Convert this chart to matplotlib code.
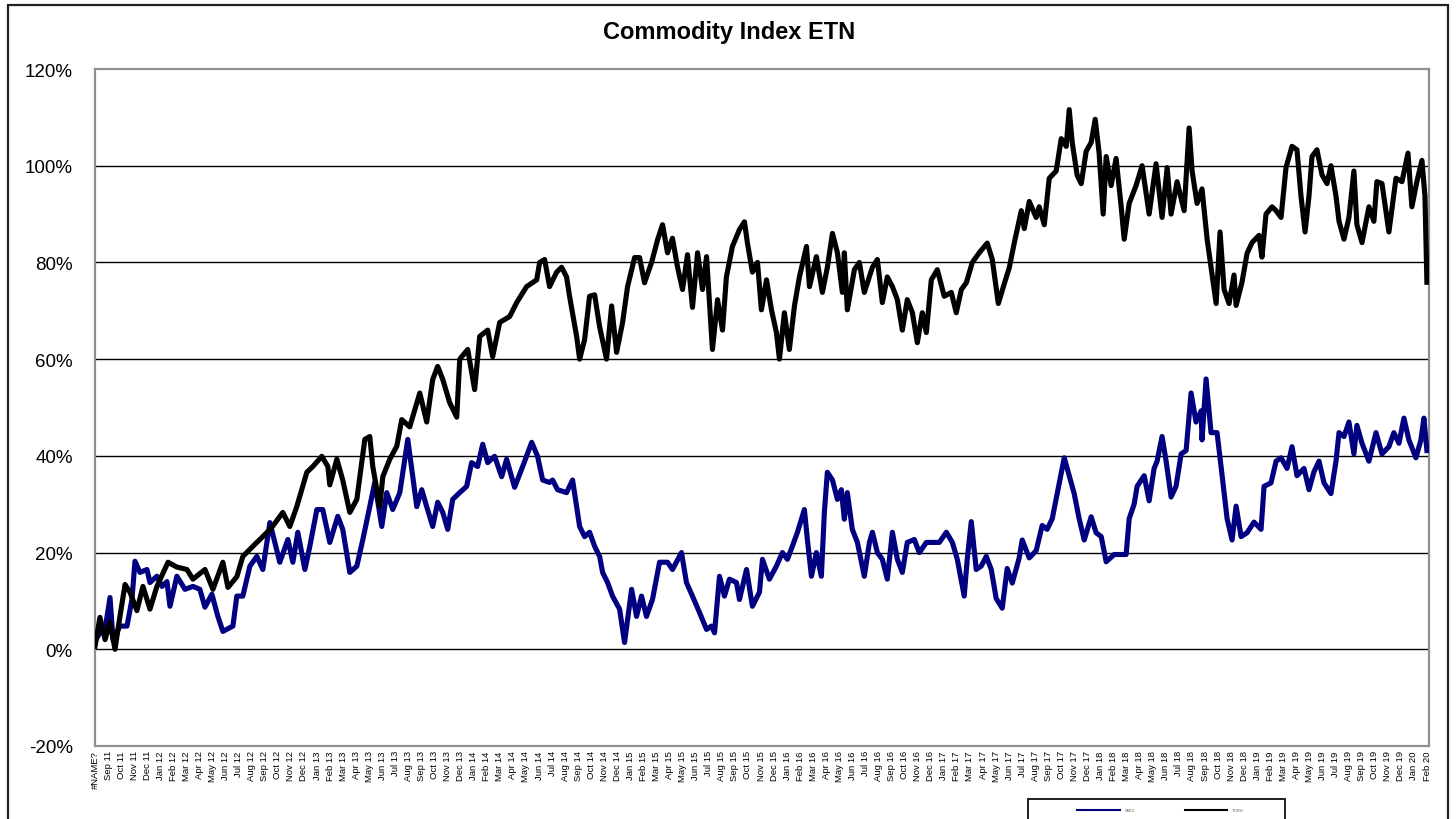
import matplotlib
matplotlib.use("Agg")
import matplotlib.pyplot as plt
from matplotlib.patches import Rectangle
from matplotlib.lines import Line2D

plt.rcParams['font.family'] = ['Liberation Sans', 'DejaVu Sans']

# ---------------- data ----------------
# time in months since Aug 2011 (tick 0 = "#NAME?")
month_names = ["Jan", "Feb", "Mar", "Apr", "May", "Jun",
               "Jul", "Aug", "Sep", "Oct", "Nov", "Dec"]
tick_labels = ["#NAME?"]
for k in range(1, 103):
    mi = (7 + k) % 12
    yr = 11 + (7 + k) // 12
    tick_labels.append(f"{month_names[mi]} {yr:02d}")

smci_t = [0.0, 0.38, 0.77, 1.15, 1.38, 1.91, 2.45, 2.83, 3.06, 3.44, 3.98, 4.21, 4.74, 5.13,
          5.51, 5.74, 6.27, 6.89, 7.50, 8.03, 8.42, 8.95, 9.41, 9.79, 10.56, 10.86, 11.32,
          11.86, 12.39, 12.85, 13.39, 13.77, 14.15, 14.77, 15.15, 15.53, 16.07, 16.45, 16.99,
          17.44, 17.98, 18.59, 18.97, 19.51, 20.05, 20.51, 21.04, 21.42, 21.96, 22.34, 22.80,
          23.34, 23.95, 24.64, 25.02, 25.40, 25.86, 26.24, 26.63, 27.01, 27.39, 27.93, 28.46,
          28.84, 29.30, 29.69, 30.07, 30.60, 31.14, 31.52, 32.13, 32.75, 33.44, 33.89, 34.28,
          34.81, 35.04, 35.42, 36.11, 36.57, 36.88, 37.11, 37.49, 37.87, 38.26, 38.64, 38.87,
          39.25, 39.63, 40.17, 40.55, 41.09, 41.47, 41.85, 42.23, 42.69, 43.23, 43.84, 44.22,
          44.91, 45.29, 45.75, 46.29, 46.83, 47.21, 47.44, 47.82, 48.20, 48.58, 49.12, 49.35,
          49.89, 50.34, 50.88, 51.11, 51.64, 52.18, 52.64, 53.02, 53.40, 53.79, 54.32, 54.55,
          54.86, 55.24, 55.62, 55.85, 56.08, 56.47, 56.85, 57.15, 57.38, 57.61, 57.99, 58.38,
          58.91, 59.30, 59.53, 59.91, 60.29, 60.67, 61.06, 61.44, 61.82, 62.20, 62.74, 63.12,
          63.66, 64.12, 64.65, 65.19, 65.65, 66.03, 66.56, 66.79, 67.10, 67.48, 67.86, 68.25,
          68.63, 69.01, 69.47, 69.85, 70.24, 70.77, 71.00, 71.54, 72.07, 72.53, 72.91, 73.30,
          73.68, 74.22, 74.60, 74.98, 75.36, 75.75, 76.28, 76.66, 77.05, 77.43, 78.04, 78.58,
          78.96, 79.19, 79.57, 79.80, 80.34, 80.72, 81.10, 81.33, 81.71, 82.02, 82.40, 82.78,
          83.17, 83.55, 83.93, 84.31, 84.70, 84.77, 85.08, 85.46, 85.92, 86.31, 86.69, 87.07,
          87.38, 87.76, 88.22, 88.75, 89.29, 89.52, 90.05, 90.44, 90.82, 91.28, 91.66, 92.04,
          92.58, 92.96, 93.34, 93.73, 94.11, 94.64, 95.03, 95.26, 95.64, 96.02, 96.40, 96.63,
          97.02, 97.55, 98.09, 98.55, 99.08, 99.46, 99.85, 100.23, 100.61, 101.15, 101.53,
          101.76, 101.99]
smci_v = [1.7, 3.4, 4.1, 10.7, 2.0, 4.8, 4.8, 10.3, 18.2, 15.9, 16.5, 13.8, 15.1, 13.0,
          14.0, 8.9, 15.1, 12.4, 13.0, 12.4, 8.7, 11.4, 6.8, 3.7, 4.8, 11.0, 11.0,
          17.2, 19.2, 16.5, 26.2, 22.1, 18.0, 22.7, 18.0, 24.2, 16.5, 21.3, 28.9,
          28.9, 22.1, 27.5, 24.8, 15.9, 17.2, 22.7, 29.5, 34.5, 25.4, 32.4, 28.9,
          32.4, 43.4, 29.5, 33.0, 29.5, 25.4, 30.4, 28.3, 24.8, 31.0, 32.4, 33.7,
          38.6, 37.8, 42.4, 38.6, 39.9, 35.7, 39.3, 33.5, 37.8, 42.8, 39.9, 35.0,
          34.5, 35.0, 33.0, 32.4, 35.0, 29.5, 25.4, 23.3, 24.2, 21.3, 19.2, 15.9,
          13.8, 11.0, 8.3, 1.4, 12.4, 6.8, 11.0, 6.8, 10.3, 18.0, 18.0, 16.5,
          20.0, 13.8, 11.0, 7.6, 4.1, 4.8, 3.4, 15.1, 11.0, 14.5, 13.8, 10.3,
          16.5, 8.9, 11.8, 18.6, 14.5, 17.2, 20.0, 18.6, 21.3, 24.2, 28.9, 22.7,
          15.1, 20.0, 15.1, 28.3, 36.6, 35.0, 31.0, 33.0, 26.9, 32.4, 24.8, 22.1,
          15.1, 22.1, 24.2, 20.0, 18.6, 14.5, 24.2, 18.6, 15.9, 22.1, 22.7, 20.0,
          22.1, 22.1, 22.1, 24.2, 22.1, 18.6, 11.0, 18.6, 26.4, 16.5, 17.2, 19.2,
          16.5, 10.5, 8.5, 16.7, 13.7, 18.9, 22.6, 18.9, 20.4, 25.6, 24.8, 27.0,
          32.2, 39.6, 35.9, 32.2, 27.0, 22.6, 27.4, 24.1, 23.3, 18.1, 19.6, 19.6,
          19.6, 27.0, 30.0, 33.7, 35.9, 30.7, 37.4, 38.9, 44.0, 38.9, 31.5, 33.7,
          40.4, 41.1, 53.0, 47.0, 49.3, 43.3, 55.9, 44.8, 44.8, 35.9, 27.0, 22.6,
          29.6, 23.3, 24.1, 26.3, 24.8, 33.7, 34.4, 38.9, 39.6, 37.4, 41.9, 35.9,
          37.4, 33.0, 36.7, 38.9, 34.4, 32.2, 38.9, 44.8, 44.0, 47.0, 40.4, 46.3,
          42.6, 38.9, 44.8, 40.4, 41.9, 44.8, 42.6, 47.8, 43.3, 39.6, 43.3,
          47.8, 41.1]

torg_t = [0.0, 0.38, 0.77, 1.15, 1.53, 1.91, 2.30, 2.68, 3.21, 3.67, 4.21, 4.74, 5.59, 6.27,
          7.04, 7.50, 8.42, 9.03, 9.79, 10.18, 10.86, 11.32, 12.09, 12.85, 13.54, 14.38, 14.92,
          15.45, 16.22, 16.68, 17.37, 17.83, 17.98, 18.52, 18.97, 19.51, 20.05, 20.66, 21.04,
          21.27, 21.81, 22.04, 22.57, 23.11, 23.49, 24.10, 24.87, 25.40, 25.86, 26.24, 26.63,
          27.16, 27.70, 27.93, 28.54, 29.07, 29.46, 30.07, 30.45, 30.99, 31.75, 32.29, 33.05,
          33.82, 34.05, 34.43, 34.81, 35.35, 35.73, 36.11, 36.34, 36.88, 37.11, 37.49, 37.87,
          38.26, 38.64, 39.17, 39.56, 39.94, 40.40, 40.78, 41.32, 41.70, 42.08, 42.62, 43.08,
          43.46, 43.84, 44.22, 44.61, 44.99, 45.37, 45.75, 46.14, 46.52, 46.83, 47.28, 47.67,
          48.05, 48.35, 48.81, 49.35, 49.73, 49.96, 50.34, 50.73, 51.03, 51.42, 51.80, 52.18,
          52.41, 52.79, 53.17, 53.56, 53.94, 54.48, 54.71, 55.24, 55.70, 56.08, 56.47, 56.85,
          57.23, 57.38, 57.61, 58.15, 58.53, 58.91, 59.53, 59.91, 60.29, 60.67, 61.06, 61.44,
          61.82, 62.20, 62.59, 62.97, 63.35, 63.66, 64.04, 64.50, 65.03, 65.57, 65.95, 66.34,
          66.72, 67.18, 67.71, 68.32, 68.71, 69.17, 69.63, 70.01, 70.39, 70.93, 71.16, 71.54,
          72.07, 72.30, 72.69, 73.07, 73.60, 73.99, 74.37, 74.60, 74.83, 75.21, 75.52, 75.90,
          76.28, 76.59, 76.89, 77.20, 77.43, 77.81, 78.19, 78.58, 78.81, 79.19, 79.72, 80.18,
          80.72, 81.25, 81.71, 82.10, 82.40, 82.86, 83.40, 83.78, 84.01, 84.39, 84.77, 85.16,
          85.54, 85.85, 86.15, 86.46, 86.84, 87.22, 87.38, 87.83, 88.22, 88.60, 89.13, 89.36,
          89.67, 90.13, 90.44, 90.82, 91.20, 91.66, 92.04, 92.35, 92.66, 92.96, 93.19, 93.57,
          93.96, 94.34, 94.64, 95.03, 95.26, 95.64, 96.02, 96.40, 96.63, 97.02, 97.55, 97.93,
          98.16, 98.55, 99.08, 99.62, 100.08, 100.54, 100.84, 101.22, 101.61, 101.84, 101.99]
torg_v = [0.6, 6.6, 2.0, 5.6, 0.0, 6.8, 13.4, 11.8, 8.0, 13.0, 8.3, 13.0, 18.0, 17.0,
          16.5, 14.5, 16.5, 12.4, 18.0, 12.8, 15.0, 19.2, 21.3, 23.3, 25.2, 28.3, 25.4,
          29.5, 36.6, 37.8, 39.9, 37.8, 34.0, 39.3, 35.0, 28.3, 31.0, 43.4, 44.0,
          37.8, 29.5, 35.7, 39.3, 42.0, 47.5, 46.0, 53.0, 47.0, 55.8, 58.5, 55.8,
          51.0, 48.0, 60.0, 62.0, 53.7, 64.7, 66.0, 60.5, 67.6, 68.8, 71.7, 75.0,
          76.4, 80.0, 80.6, 75.0, 78.0, 79.0, 77.0, 73.0, 64.7, 60.0, 64.0, 73.0,
          73.3, 66.7, 60.0, 71.0, 61.4, 67.6, 75.0, 81.0, 81.0, 75.8, 80.0, 84.7,
          87.8, 82.0, 85.0, 79.0, 74.4, 81.6, 70.7, 82.0, 74.4, 81.2, 62.0, 72.3,
          66.0, 77.0, 83.3, 86.8, 88.4, 84.0, 78.0, 80.0, 70.2, 76.4, 70.2, 65.5,
          60.0, 69.6, 62.0, 71.0, 77.0, 83.3, 75.0, 81.2, 73.8, 79.0, 86.0, 82.0,
          73.8, 82.0, 70.2, 78.5, 80.0, 73.8, 79.0, 80.6, 71.7, 77.0, 75.0, 72.3,
          66.0, 72.3, 69.6, 63.4, 69.6, 65.5, 76.4, 78.5, 73.0, 73.8, 69.6, 74.4,
          75.8, 80.0, 82.0, 84.0, 80.6, 71.5, 75.6, 78.9, 84.0, 90.7, 87.0, 92.6,
          89.3, 91.5, 87.8, 97.4, 98.9, 105.6, 104.0, 111.6, 104.8, 98.0, 96.3, 103.0,
          104.8, 109.6, 102.6, 90.0, 101.9, 95.9, 101.5, 91.5, 84.8, 92.2, 95.9, 100.0,
          90.0, 100.4, 89.3, 99.6, 90.0, 96.7, 90.7, 107.8, 98.9, 92.2, 95.2, 84.8,
          77.4, 71.5, 86.3, 74.4, 71.5, 77.4, 71.1, 75.9, 81.9, 84.1, 85.6, 81.1,
          90.0, 91.5, 90.7, 89.3, 99.6, 104.0, 103.3, 93.7, 86.3, 93.7, 101.9, 103.3,
          98.1, 96.3, 100.0, 93.7, 88.5, 84.8, 89.3, 98.9, 87.8, 84.1, 91.5, 88.5,
          96.7, 96.3, 86.3, 97.4, 96.7, 102.6, 91.5, 96.7, 101.1, 93.7, 75.9]

y_ticks = [-20, 0, 20, 40, 60, 80, 100, 120]
series_names = ["SMCI", "TORG"]
series_colors = ["#000080", "#000000"]

# ---------------- figure ----------------
fig = plt.figure(figsize=(14.56, 8.2), dpi=100)
fig.patch.set_facecolor("white")

# outer chart border (extends below the image)
fig.patches.append(Rectangle((8 / 1456, -0.05), 1440 / 1456, 1.05 - 6 / 820,
                             transform=fig.transFigure, fill=False,
                             edgecolor="#202020", linewidth=1.6, zorder=0))

ax = fig.add_axes([95 / 1456, 73 / 820, 1334 / 1456, 677 / 820])
ax.set_xlim(0, 102.15)
ax.set_ylim(-20, 120)

for y in y_ticks[1:-1]:
    ax.axhline(y, color="#000000", linewidth=1.0, zorder=1)

l1, = ax.plot(smci_t, smci_v, color=series_colors[0], linewidth=3.7,
              solid_joinstyle="round", zorder=3)
l2, = ax.plot(torg_t, torg_v, color=series_colors[1], linewidth=3.7,
              solid_joinstyle="round", zorder=4)

ax.set_yticks(y_ticks)
ax.set_yticklabels([f"{v}%" for v in y_ticks], fontsize=13.5)
ax.tick_params(axis="y", length=0, pad=16)

ax.set_xticks(range(len(tick_labels)))
ax.set_xticklabels(tick_labels, rotation=90, fontsize=6.8)
ax.tick_params(axis="x", length=0, pad=3)

for s in ax.spines.values():
    s.set_color("#909090")
    s.set_linewidth(1.6)

fig.text(729 / 1456, 1 - 32 / 820, "Commodity Index ETN", ha="center", va="center",
         fontsize=17, fontweight="bold")

# legend box at the bottom (partly cut off)
fig.patches.append(Rectangle((1028 / 1456, -0.05), 257 / 1456, 0.05 + 1 - 800 / 820,
                             transform=fig.transFigure, fill=False,
                             edgecolor="#202020", linewidth=1.4, zorder=5))
ly = 1 - 811 / 820
for (x0, x1, tx), name, line in zip([(1077, 1120, 1125), (1185, 1227, 1232)],
                                    series_names, [l1, l2]):
    fig.lines.append(Line2D([x0 / 1456, x1 / 1456], [ly, ly], transform=fig.transFigure,
                            color=line.get_color(), linewidth=1.5))
    fig.text(tx / 1456, ly, name, fontsize=3, color="#606060", va="center", ha="left")

fig.savefig("out.png", dpi=100, facecolor="white")
